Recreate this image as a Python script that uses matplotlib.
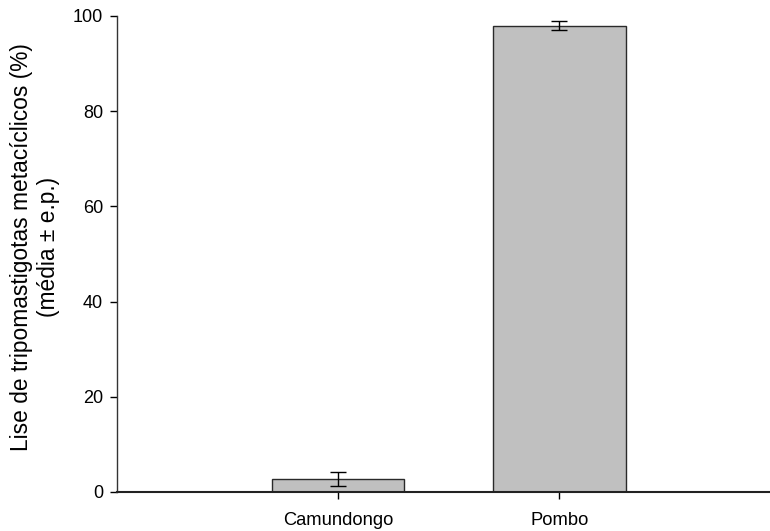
import matplotlib
matplotlib.use("Agg")
import matplotlib.pyplot as plt

# hosts and mean lysis with standard error
hosts = ["Camundongo", "Pombo"]
lysis = [2.75, 97.95]
erro = [1.5, 0.95]

plt.rcParams['font.family'] = ['Liberation Sans', 'DejaVu Sans']

fig = plt.figure(figsize=(7.70, 5.31), dpi=100)
ax = fig.add_axes([117 / 770, 1 - 492 / 531, 1 - 117 / 770, 476 / 531])

pos = range(len(hosts))
ax.bar(pos, lysis, width=0.6, color="#c0c0c0", edgecolor="#2a2a2a", linewidth=1.0,
       yerr=erro, capsize=5.5, error_kw={"elinewidth": 1.0, "capthick": 1.0, "ecolor": "black"},
       zorder=2)

ax.set_xlim(-1.0, 1.953)
ax.set_ylim(0, 100)
ax.set_yticks([0, 20, 40, 60, 80, 100])
ax.set_xticks(list(pos))
ax.set_xticklabels(hosts, fontsize=13.2)
ax.tick_params(axis="y", labelsize=13, direction="out", length=5, width=1, pad=5)
ax.tick_params(axis="x", direction="out", length=5, width=1, pad=9.5)

for s in ["top", "right"]:
    ax.spines[s].set_visible(False)
ax.spines["left"].set_linewidth(1.0)
ax.spines["bottom"].set_linewidth(1.5)
ax.spines["left"].set_color("#333333")
ax.spines["bottom"].set_color("#222222")

ax.set_ylabel("Lise de tripomastigotas metacíclicos (%)\n(média ± e.p.)", fontsize=16.4,
              va="center")
ax.yaxis.set_label_coords(-0.1256, 0.515)

fig.savefig("out.png", dpi=100)
